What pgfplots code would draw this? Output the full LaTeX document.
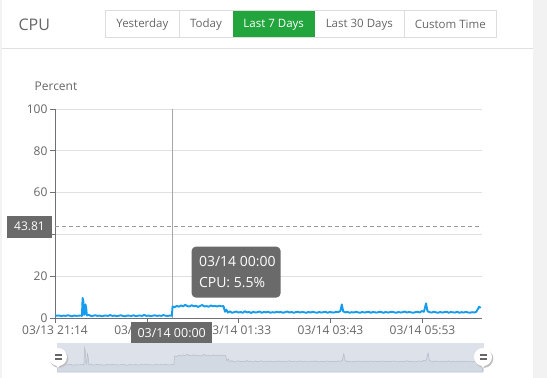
\documentclass[border=0pt]{standalone}
\usepackage{pgfplots}
\pgfplotsset{compat=1.18}
\usepackage{pgfplotstable}
\usepackage{fontspec}
\setmainfont{Open Sans}

\definecolor{cpublue}{HTML}{169CEC}
\definecolor{gridgray}{HTML}{E0E0E0}
\definecolor{axisgray}{HTML}{6E7079}
\definecolor{labelgray}{HTML}{666666}
\definecolor{tipgray}{HTML}{6A6A6A}
\definecolor{btngreen}{HTML}{22A53D}
\definecolor{btnborder}{HTML}{DDDDDD}
\definecolor{pagegray}{HTML}{F2F2F2}
\definecolor{sliderbg}{HTML}{DDE2EA}
\definecolor{sliderarea}{HTML}{D3D9E2}
\definecolor{sliderline}{HTML}{B4BCC7}

% minutes after 03/13 21:14, CPU percent
\pgfplotstableread{
t v
0 1.3
3 1.1
6 1.2
9 0.9
12 1.2
15 1.0
18 1.3
21 1.1
24 0.8
27 1.2
30 1.0
33 1.1
36 1.2
38 1.0
39 9.6
40 8.0
41 1.5
42 2.0
43 6.5
44 5.0
45 1.2
48 1.5
51 0.9
54 1.1
57 1.3
60 1.0
63 1.2
66 0.8
69 1.1
72 1.2
75 1.0
78 1.4
81 1.0
84 1.2
87 0.9
90 1.1
93 1.3
96 1.0
99 0.8
102 1.2
105 1.1
108 1.0
111 1.3
114 0.9
117 1.1
120 1.2
123 1.0
126 1.5
129 1.0
132 1.2
135 0.9
138 1.1
141 1.3
144 1.0
147 1.2
150 1.0
153 1.4
156 1.1
159 1.0
162 1.2
165 1.1
166 5.5
169 5.2
172 5.8
175 5.4
178 6.0
181 5.6
184 6.3
187 5.7
190 5.5
193 6.1
196 5.6
199 5.9
202 5.3
205 5.8
208 6.2
211 5.5
214 5.7
217 5.4
220 6.0
223 5.6
226 5.8
229 5.5
232 5.9
235 5.6
238 5.7
240 3.0
242 4.0
244 2.6
247 3.2
250 2.5
253 2.8
256 3.1
259 2.6
262 2.9
265 2.5
268 3.2
271 2.7
274 2.9
277 2.4
280 3.0
283 2.6
286 2.8
289 3.1
292 2.5
295 2.9
298 2.7
301 3.0
304 2.5
307 2.8
310 2.6
313 3.0
316 2.7
319 2.9
322 2.5
325 2.8
328 3.1
331 2.6
334 2.9
337 2.5
340 2.8
343 3.0
346 2.6
349 2.9
352 2.7
355 2.5
358 2.9
361 2.6
364 3.0
367 2.7
370 2.5
373 2.9
376 2.6
379 2.8
382 3.0
385 2.5
388 2.9
391 2.7
394 2.6
397 3.0
400 2.8
403 3.3
405 6.5
407 3.2
410 2.7
413 2.9
416 2.5
419 2.8
422 2.6
425 3.0
428 2.7
431 2.5
434 2.9
437 2.6
440 2.8
443 3.0
446 2.5
449 2.9
452 2.7
455 2.6
458 3.0
461 2.8
464 2.5
467 2.9
470 2.6
473 2.8
476 3.0
479 2.7
482 2.5
485 2.9
488 2.6
491 2.8
494 3.1
497 2.6
500 2.9
503 2.7
506 2.5
509 2.8
512 3.0
515 2.6
518 3.3
521 3.0
524 7.0
526 3.2
529 2.8
532 2.6
535 3.0
538 2.7
541 2.5
544 2.9
547 2.6
550 2.8
553 3.0
556 2.5
559 2.9
562 2.7
565 2.6
568 3.0
571 2.5
574 2.8
577 2.6
580 2.9
583 2.7
586 2.5
589 2.8
592 2.6
595 3.0
597 4.2
599 5.4
601 4.8
}\cpudata

\begin{document}
\begin{tikzpicture}[x=1pt,y=1pt]
  % page and card
  \fill[pagegray] (0,0) rectangle (547,-378);
  \fill[white] (2,0) rectangle (533,-378);
  \draw[gridgray] (2,-48.5) -- (533,-48.5);

  % header
  \node[anchor=west, text=labelgray, font=\fontsize{16}{16}\selectfont] at (15,-24.5) {CPU};
  \fill[white] (105.5,-10.5) rectangle (496.5,-37);
  \fill[btngreen] (232.7,-10.5) rectangle (314.7,-37);
  \draw[btnborder] (105.5,-10.5) rectangle (496.5,-37);
  \foreach \xx in {179.3,404} \draw[btnborder] (\xx,-10.5) -- (\xx,-37);
  \begin{scope}[font=\fontsize{11.5}{12}\selectfont]
    \node[text=labelgray] at (142.4,-24.5) {Yesterday};
    \node[text=labelgray] at (206,-24.5) {Today};
    \node[text=white] at (273.7,-24.5) {Last 7 Days};
    \node[text=labelgray] at (359.3,-24.5) {Last 30 Days};
    \node[text=labelgray] at (450.3,-24.5) {Custom Time};
  \end{scope}

  \node[text=labelgray, font=\fontsize{12}{12}\selectfont] at (56,-86.5) {Percent};

  \begin{axis}[
    at={(55pt,-318pt)}, anchor=south west,
    scale only axis, width=427pt, height=209pt,
    xmin=0, xmax=603, ymin=0, ymax=100,
    axis lines=left,
    axis line style={draw=axisgray, -},
    xtick={0,130,259,389,519},
    xticklabels={03/13 21:14,03/13 23:24,03/14 01:33,03/14 03:43,03/14 05:53},
    ytick={0,20,40,60,80,100},
    yticklabels={0,20,,60,80,100},
    ymajorgrids, grid style={gridgray, line width=0.8pt},
    tick align=outside, major tick length=5pt,
    tick style={axisgray, line width=0.8pt},
    tick label style={font=\fontsize{12}{12}\selectfont, text=labelgray},
    xticklabel style={yshift=1pt},
    yticklabel style={xshift=1pt},
  ]
    \draw[gray!70, line width=0.6pt] (axis cs:165.3,0) -- (axis cs:165.3,100);
    \draw[gray!80, line width=0.7pt, dash pattern=on 4pt off 3pt] (axis cs:0,43.81) -- (axis cs:603,43.81);
    \addplot[cpublue, line width=1.9pt, line join=round, mark=none] table[x=t, y=v] {\cpudata};
  \end{axis}

  % axis pointer labels
  \fill[tipgray] (7.3,-215.7) rectangle (51.7,-237.7);
  \node[text=white, font=\fontsize{12}{12}\selectfont] at (29.5,-226.7) {43.81};
  \fill[tipgray] (131,-321.7) rectangle (212.3,-343.7);
  \node[text=white, font=\fontsize{12.5}{12.5}\selectfont] at (171.7,-332.7) {03/14 00:00};

  % tooltip
  \fill[tipgray, rounded corners=4pt] (191.7,-246.7) rectangle (280.5,-297.5);
  \node[anchor=west, text=white, font=\fontsize{14}{14}\selectfont] at (195.5,-262) {03/14 00:00};
  \node[anchor=west, text=white, font=\fontsize{14}{14}\selectfont] at (195.5,-283) {CPU: 5.5\%};

  % data zoom slider
  \fill[sliderbg] (57,-343) rectangle (484,-372);
  \begin{axis}[
    at={(57pt,-372pt)}, anchor=south west,
    scale only axis, width=427pt, height=29pt,
    xmin=0, xmax=603, ymin=0, ymax=14.4,
    hide axis,
  ]
    \addplot[draw=sliderline, fill=sliderarea, line width=0.5pt, mark=none,
      y filter/.expression={y+2.5}] table[x=t, y=v] {\cpudata} \closedcycle;
  \end{axis}

  % slider handles
  \foreach \hx in {58,483} {
    \fill[black!25] (\hx+1,-358.5) circle (9.3);
    \fill[white] (\hx,-357) circle (9);
    \fill[white] (\hx-2.5,-364) -- (\hx+2.5,-364) -- (\hx,-368) -- cycle;
    \draw[labelgray, line width=1.2pt] (\hx-3.5,-355) -- (\hx+3.5,-355);
    \draw[labelgray, line width=1.2pt] (\hx-3.5,-359) -- (\hx+3.5,-359);
  }
\end{tikzpicture}
\end{document}
